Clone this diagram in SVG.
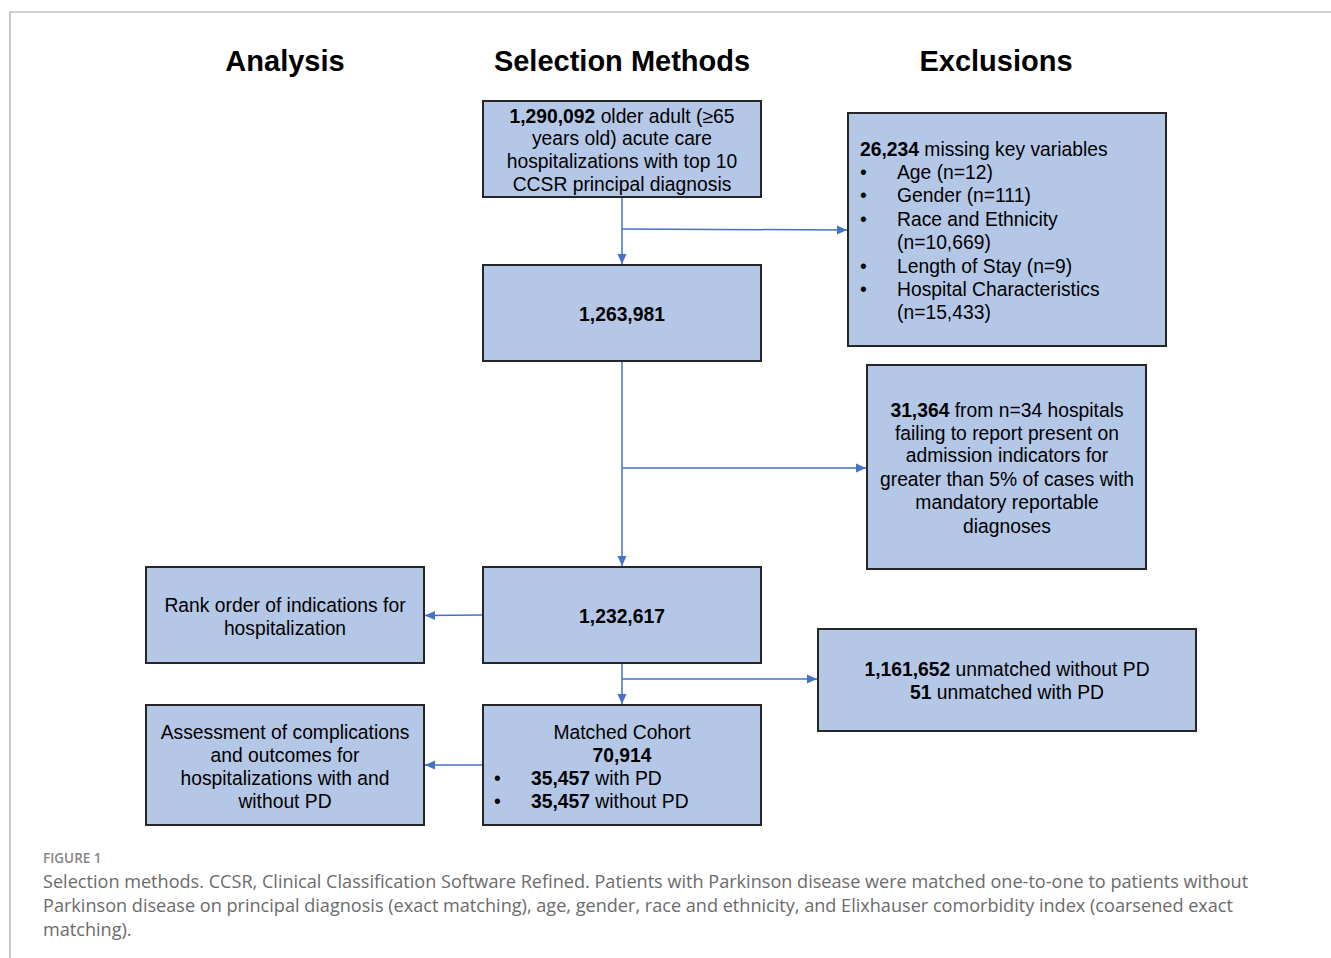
<svg xmlns="http://www.w3.org/2000/svg" width="1331" height="958" viewBox="0 0 1331 958">
<style>
.box{fill:#b4c7e7;stroke:#262626;stroke-width:2}
.t{font-family:"Liberation Sans",Arial,sans-serif;font-size:19.3px;fill:#000}
.c{text-anchor:middle}
.b{font-weight:bold}
.h{font-family:"Liberation Sans",Arial,sans-serif;font-size:29px;font-weight:bold;text-anchor:middle;fill:#000}
.ln{stroke:#4472c4;stroke-width:1.5;fill:none}
.cap{font-family:"Open Sans","Noto Sans",sans-serif;font-size:18.1px;fill:#6b6b6b}
</style>
<defs>
<marker id="ah" viewBox="0 0 10 10" refX="10" refY="5" markerWidth="10" markerHeight="10" orient="auto" markerUnits="userSpaceOnUse">
<path d="M0,0.5 L10,5 L0,9.5 z" fill="#4472c4"/>
</marker>
</defs>
<rect width="1331" height="958" fill="#fff"/>
<path d="M10,958 L10,12 L1331,12" fill="none" stroke="#a6a6a6" stroke-width="1.2"/>

<g id="headers">
<text class="h" x="285" y="71">Analysis</text>
<text class="h" x="622" y="71">Selection Methods</text>
<text class="h" x="996" y="71">Exclusions</text>
</g>

<g id="connectors">
<line class="ln" x1="622" y1="197" x2="622" y2="264" marker-end="url(#ah)"/>
<line class="ln" x1="622" y1="229" x2="847" y2="230" marker-end="url(#ah)"/>
<line class="ln" x1="622" y1="361" x2="622" y2="566" marker-end="url(#ah)"/>
<line class="ln" x1="622" y1="468" x2="866" y2="468" marker-end="url(#ah)"/>
<line class="ln" x1="483" y1="615" x2="425" y2="615.5" marker-end="url(#ah)"/>
<line class="ln" x1="622" y1="663" x2="622" y2="704" marker-end="url(#ah)"/>
<line class="ln" x1="622" y1="679" x2="817" y2="679" marker-end="url(#ah)"/>
<line class="ln" x1="483" y1="765" x2="425" y2="765" marker-end="url(#ah)"/>
</g>

<g id="n1">
<rect class="box" x="483" y="101" width="278" height="96"/>
<text class="t c" x="622" y="123"><tspan class="b">1,290,092</tspan> older adult (≥65</text>
<text class="t c" x="622" y="145">years old) acute care</text>
<text class="t c" x="622" y="168">hospitalizations with top 10</text>
<text class="t c" x="622" y="191">CCSR principal diagnosis</text>
</g>

<g id="n2">
<rect class="box" x="483" y="265" width="278" height="96"/>
<text class="t c b" x="622" y="321">1,263,981</text>
</g>

<g id="ex1">
<rect class="box" x="848" y="113" width="318" height="233"/>
<text class="t" x="860" y="156"><tspan class="b">26,234</tspan> missing key variables</text>
<text class="t" x="860" y="179">•</text><text class="t" x="897" y="179">Age (n=12)</text>
<text class="t" x="860" y="202">•</text><text class="t" x="897" y="202">Gender (n=111)</text>
<text class="t" x="860" y="226">•</text><text class="t" x="897" y="226">Race and Ethnicity</text>
<text class="t" x="897" y="249">(n=10,669)</text>
<text class="t" x="860" y="273">•</text><text class="t" x="897" y="273">Length of Stay (n=9)</text>
<text class="t" x="860" y="296">•</text><text class="t" x="897" y="296">Hospital Characteristics</text>
<text class="t" x="897" y="319">(n=15,433)</text>
</g>

<g id="ex2">
<rect class="box" x="867" y="365" width="279" height="204"/>
<text class="t c" x="1007" y="417"><tspan class="b">31,364</tspan> from n=34 hospitals</text>
<text class="t c" x="1007" y="440">failing to report present on</text>
<text class="t c" x="1007" y="462">admission indicators for</text>
<text class="t c" x="1007" y="486">greater than 5% of cases with</text>
<text class="t c" x="1007" y="509">mandatory reportable</text>
<text class="t c" x="1007" y="533">diagnoses</text>
</g>

<g id="n3">
<rect class="box" x="483" y="567" width="278" height="96"/>
<text class="t c b" x="622" y="623">1,232,617</text>
</g>

<g id="rank">
<rect class="box" x="146" y="567" width="278" height="96"/>
<text class="t c" x="285" y="612">Rank order of indications for</text>
<text class="t c" x="285" y="635">hospitalization</text>
</g>

<g id="ex3">
<rect class="box" x="818" y="629" width="378" height="102"/>
<text class="t c" x="1007" y="676"><tspan class="b">1,161,652</tspan> unmatched without PD</text>
<text class="t c" x="1007" y="699"><tspan class="b">51</tspan> unmatched with PD</text>
</g>

<g id="n4">
<rect class="box" x="483" y="705" width="278" height="120"/>
<text class="t c" x="622" y="739">Matched Cohort</text>
<text class="t c b" x="622" y="762">70,914</text>
<text class="t" x="494" y="785">•</text><text class="t" x="531" y="785"><tspan class="b">35,457</tspan> with PD</text>
<text class="t" x="494" y="808">•</text><text class="t" x="531" y="808"><tspan class="b">35,457</tspan> without PD</text>
</g>

<g id="assess">
<rect class="box" x="146" y="705" width="278" height="120"/>
<text class="t c" x="285" y="739">Assessment of complications</text>
<text class="t c" x="285" y="762">and outcomes for</text>
<text class="t c" x="285" y="785">hospitalizations with and</text>
<text class="t c" x="285" y="808">without PD</text>
</g>

<g id="caption">
<text class="cap" x="43" y="863" style="font-size:13.5px;fill:#858585;font-weight:600">FIGURE 1</text>
<text class="cap" x="43" y="888">Selection methods. CCSR, Clinical Classification Software Refined. Patients with Parkinson disease were matched one-to-one to patients without</text>
<text class="cap" x="43" y="912">Parkinson disease on principal diagnosis (exact matching), age, gender, race and ethnicity, and Elixhauser comorbidity index (coarsened exact</text>
<text class="cap" x="43" y="936">matching).</text>
</g>
</svg>
